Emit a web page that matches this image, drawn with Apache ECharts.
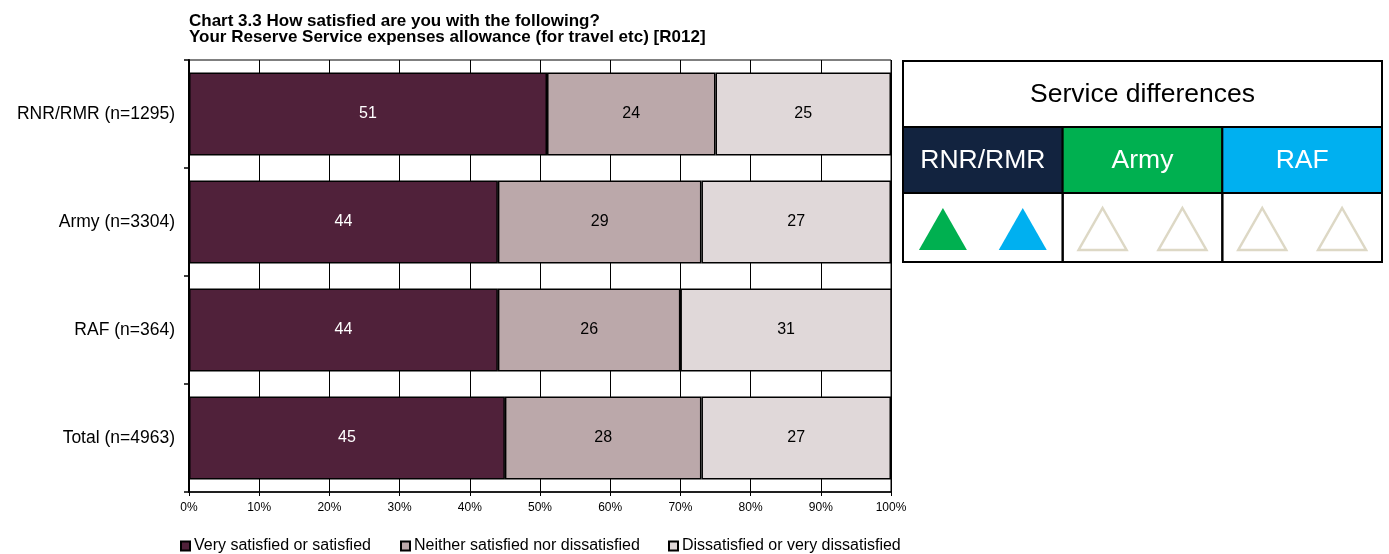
<!DOCTYPE html>
<html><head><meta charset="utf-8">
<script src="https://cdn.jsdelivr.net/npm/echarts@6/dist/echarts.min.js"></script>
<style>html,body{margin:0;padding:0;background:#fff}#c{width:1389px;height:554px}</style>
</head><body><div id="c"></div>
<script>
const categories = ['RNR/RMR (n=1295)', 'Army (n=3304)', 'RAF (n=364)', 'Total (n=4963)'];
const seriesNames = ['Very satisfied or satisfied', 'Neither satisfied nor dissatisfied', 'Dissatisfied or very dissatisfied'];
const satisfied = [51, 44, 44, 45];
const neither = [24, 29, 26, 28];
const dissatisfied = [25, 27, 31, 27];
const xTicks = [0, 10, 20, 30, 40, 50, 60, 70, 80, 90, 100];
const titleLines = ['Chart 3.3 How satisfied are you with the following?', 'Your Reserve Service expenses allowance (for travel etc) [R012]'];
const services = ['RNR/RMR', 'Army', 'RAF'];
// per service: two comparison markers (filled colour or null for no difference)
const markers = [['#00b050', '#00b0f0'], [null, null], [null, null]];

const colors = ['#50213a', '#bba8aa', '#e0d8d9'];
const labelColors = ['#ffffff', '#000000', '#000000'];
const font = '"Liberation Sans", Arial, sans-serif';

const chart = echarts.init(document.getElementById('c'), null, {renderer: 'canvas'});

const data = [satisfied, neither, dissatisfied];
const series = data.map((d, i) => ({
  name: seriesNames[i], type: 'bar', stack: 'all', data: d,
  barCategoryGap: '23%',
  itemStyle: {color: colors[i], borderColor: '#000', borderWidth: 1.5},
  label: {show: true, position: 'inside', color: labelColors[i], fontSize: 16, fontFamily: font},
  emphasis: {disabled: true}
}));

// Right panel
const g = [];
const px0 = 903, px1 = 1382, py0 = 61, py1 = 127, py2 = 193, py3 = 262;
const colW = (px1 - px0) / 3;
const headColors = ['#12233f', '#00b050', '#00b0f0'];
g.push({type: 'rect', shape: {x: px0, y: py0, width: px1 - px0, height: py3 - py0}, style: {fill: '#fff', stroke: '#000', lineWidth: 2}});
g.push({type: 'text', style: {x: (px0 + px1) / 2, y: (py0 + py1) / 2 + 1, text: 'Service differences', fill: '#000', fontFamily: font, fontSize: 26.5, align: 'center', verticalAlign: 'middle'}});
services.forEach((s, i) => {
  const x = px0 + i * colW;
  g.push({type: 'rect', shape: {x: x, y: py1, width: colW, height: py2 - py1}, style: {fill: headColors[i], stroke: '#000', lineWidth: 2}});
  g.push({type: 'text', style: {x: x + colW / 2, y: (py1 + py2) / 2 + 1, text: s, fill: '#fff', fontFamily: font, fontSize: 26.5, align: 'center', verticalAlign: 'middle'}});
  g.push({type: 'rect', shape: {x: x, y: py2, width: colW, height: py3 - py2}, style: {fill: 'none', stroke: '#000', lineWidth: 2}});
  markers[i].forEach((m, j) => {
    const cx = x + colW * (j === 0 ? 0.25 : 0.75);
    const top = 208, bot = 250, hw = 24;
    g.push({type: 'polygon', shape: {points: [[cx, top], [cx + hw, bot], [cx - hw, bot]]},
      style: m ? {fill: m, stroke: null} : {fill: 'none', stroke: '#ddd8c5', lineWidth: 2.5}});
  });
});

const legendLefts = [180, 400, 668];
const legends = seriesNames.map((n, i) => ({
  data: [n], top: 538, left: legendLefts[i], padding: 0, icon: 'rect', itemWidth: 9, itemHeight: 9,
  textStyle: {fontSize: 16, fontFamily: font, color: '#000', padding: [0, 0, 0, -1]},
  selectedMode: false
}));

chart.setOption({
  animation: false,
  title: {
    text: titleLines.join('\n'),
    left: 184, top: 8,
    textStyle: {fontSize: 17, fontWeight: 'bold', fontFamily: font, color: '#000', lineHeight: 16}
  },
  legend: legends,
  grid: {left: 189, right: 498, top: 60, bottom: 62, show: true, borderColor: '#000', borderWidth: 1, containLabel: false},
  xAxis: {
    type: 'value', min: 0, max: 100, interval: 10,
    axisLine: {show: true, lineStyle: {color: '#000', width: 1.5}},
    axisTick: {show: true, length: 4, lineStyle: {color: '#000'}},
    splitLine: {show: true, lineStyle: {color: '#000', width: 1}},
    axisLabel: {formatter: v => xTicks.includes(v) ? v + '%' : '', fontSize: 12, fontFamily: font, color: '#000', margin: 10}
  },
  yAxis: {
    type: 'category', data: categories, inverse: true,
    axisLine: {show: true, lineStyle: {color: '#000', width: 2}},
    axisTick: {show: true, length: 5, lineStyle: {color: '#000', width: 1.5}},
    axisLabel: {fontSize: 17.5, fontFamily: font, color: '#000', margin: 14}
  },
  series: series,
  graphic: g
});
</script></body></html>
